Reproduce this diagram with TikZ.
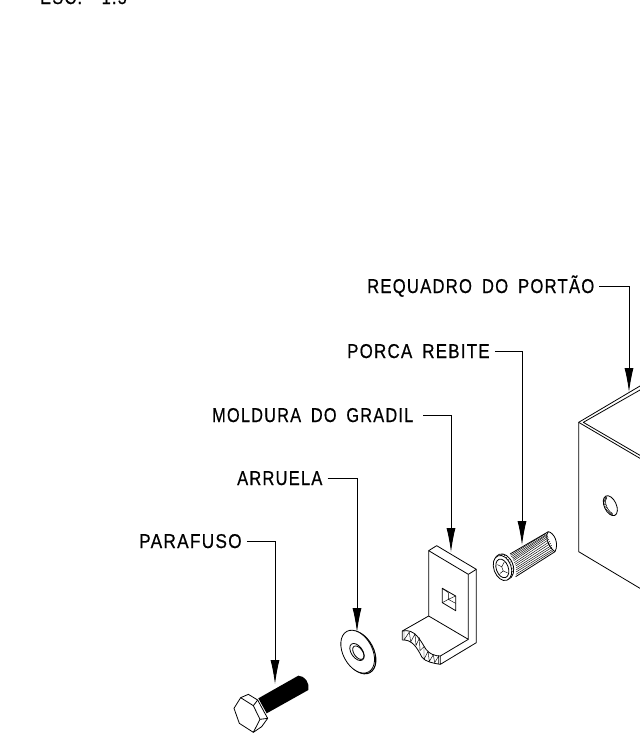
\documentclass[tikz,border=0pt]{standalone}
\usepackage{fontspec}
\setmainfont{Liberation Sans}
\newfontfamily\cad[LetterSpace=6.5,FakeStretch=0.86,WordSpace=1.7,FakeBold=0.6]{Liberation Sans}
\usetikzlibrary{arrows.meta}
\tikzset{
  lbl/.style={anchor=west,inner ysep=0pt,inner xsep=5pt,text height=14pt,text depth=0pt,font=\cad\fontsize{20pt}{21pt}\selectfont,text=black},
  leader/.style={draw=black,line width=0.9pt,-{Latex[length=24pt,width=9pt]}},
  part/.style={draw=black,line width=0.8pt,line join=round},
  fine/.style={draw=black,line width=0.45pt},
  zoomA/.style={shift={(210,660)},scale=1/3},
  zoomB/.style={shift={(320,530)},scale=1/3},
  zoomC/.style={shift={(480,380)},scale=1/3}
}
\begin{document}
\begin{tikzpicture}[x=1pt,y=-1pt]
\useasboundingbox (0,0) rectangle (640,740);
\clip (0,0) rectangle (640,740);
\fill[white] (0,0) rectangle (640,740);

\node[lbl,anchor=base west,inner xsep=0pt] (esc) at (40,4) {\scalebox{0.95}[1]{ESC.\ \ 1:5}};

\node[lbl] (req) at (362,286) {\scalebox{0.966}[1]{REQUADRO DO PORTÃO}};
\node[lbl] (por) at (342,351) {\scalebox{0.98}[1]{PORCA REBITE}};
\node[lbl] (mol) at (207,415) {\scalebox{0.948}[1]{MOLDURA DO GRADIL}};
\node[lbl] (arr) at (232,478) {\scalebox{0.956}[1]{ARRUELA}};
\node[lbl] (par) at (134,541) {PARAFUSO};

\coordinate (treq) at (629,392);
\coordinate (tpor) at (522,545);
\coordinate (tmol) at (451,552);
\coordinate (tarr) at (357,632);
\coordinate (tpar) at (275,684);

% box
\begin{scope}[zoomC]
\draw[part] (480,18) -- (296,127) -- (296,515) -- (480,625);
\draw[part] (296,127) -- (480,235);
\draw[part] (480,30) -- (310,127) -- (480,226);
\begin{scope}[shift={(391,377)},rotate=25]
\draw[part] (0,0) ellipse (18 and 32);
\draw[fine] (-3.8,23.5) arc[start angle=110,end angle=270,x radius=11,y radius=25];
\foreach \a in {110,120,...,270}
  \draw[fine] ({18*cos(\a)},{32*sin(\a)}) -- ({11*cos(\a)},{25*sin(\a)});
\end{scope}
\end{scope}

% rivet nut
\begin{scope}[zoomC]
\draw[part] (90,522) -- (205,455);
\draw[part] (107,590) -- (225,515);
\draw[part] (205,455) .. controls (222,458) and (238,490) .. (225,515);
\draw[part] (205,455) .. controls (192,470) and (208,505) .. (225,515);
\foreach \a/\b/\c/\d in {
 92/526/198/460, 94/530/200/463, 97/534/200/466, 99/538/203/469,
 101/542/205/473, 103/548/207/478, 105/553/210/484, 107/558/212/490,
 108/564/215/496, 108/570/216/502, 108/576/220/507, 108/583/222/511}
  \draw[fine] (\a,\b) -- (\c,\d);
\begin{scope}[shift={(70,562)},rotate=20]
\draw[part,fill=white] (2,-1) ellipse (28 and 40);
\foreach \a in {-70,-55,...,80}
  \draw[fine] ({2+28*cos(\a)},{-1+40*sin(\a)}) -- ({28*cos(\a)-3},{-1+36*sin(\a)});
\draw[part,fill=white] (-3,1) ellipse (26 and 39);
\draw[part] (-4,2) ellipse (18 and 29);
\draw[fine] (-14,-14) -- (-4,-3) -- (8,-14) (-4,-3) -- (-4,10) (-4,10) -- (-16,14) (-4,10) -- (6,20);
\end{scope}
\end{scope}

% bracket
\begin{scope}[zoomB]
\draw[part] (326,62) -- (350,47) -- (469,118) -- (445,133) -- cycle;
\draw[part] (326,62) -- (326,258) -- (445,328) -- (445,133);
\draw[part] (469,118) -- (469,338) -- (361,403) -- (361,378) -- (445,328);
\draw[part] (326,258) -- (247,303) -- (247,330);
\draw[part] (247,303) .. controls (285,295) and (300,330) .. (318,358) .. controls (328,372) and (345,378) .. (361,378);
\draw[part] (247,330) .. controls (275,328) and (290,350) .. (306,382) .. controls (316,395) and (340,400) .. (361,403);
\draw[fine] (252,302) -- (252,330) -- (268,306) -- (272,336) -- (285,312) -- (288,346) -- (298,325) -- (300,362) -- (312,350) -- (312,388) -- (324,364) -- (328,394) -- (340,374) -- (344,398) -- (356,378) -- (356,402);
\draw[part] (367,175) -- (407,198) -- (407,242) -- (367,218) -- cycle;
\draw[fine] (367,175) -- (385,188) -- (385,208) -- (407,198) (385,208) -- (367,218) (385,208) -- (407,220);
\end{scope}

% washer
\begin{scope}[zoomB]
\draw[part,line width=1.1pt,shift={(117,367)},rotate=-62] (0,0) ellipse (69 and 44);
\draw[part,fill=white,shift={(113,365)},rotate=-62] (0,0) ellipse (69 and 44);
\draw[part,shift={(111,366)},rotate=-55] (0,0) ellipse (29 and 17);
\draw[part,shift={(115,368)},rotate=-55] (0,0) ellipse (23 and 13);
\end{scope}

% bolt
\begin{scope}[zoomA]
\fill[black] (145,115) -- (265,47) .. controls (285,47) and (300,70) .. (295,90) -- (170,160) -- cycle;
\draw[part,fill=white] (72,145) -- (92,113) -- (115,103) -- (143,120) -- (162,155) -- (173,175) -- (155,200) -- (130,217) -- (88,190) -- cycle;
\draw[part] (92,113) -- (130,137) -- (150,178) -- (130,217);
\draw[part] (130,137) -- (143,120);
\draw[part] (150,178) -- (173,175);
\end{scope}

\draw[leader] (req.east) -| (treq);
\draw[leader] (por.east) -| (tpor);
\draw[leader] ([xshift=5pt]mol.east) -| (tmol);
\draw[leader] (arr.east) -| (tarr);
\draw[leader] (par.east) -| (tpar);
\end{tikzpicture}
\end{document}
